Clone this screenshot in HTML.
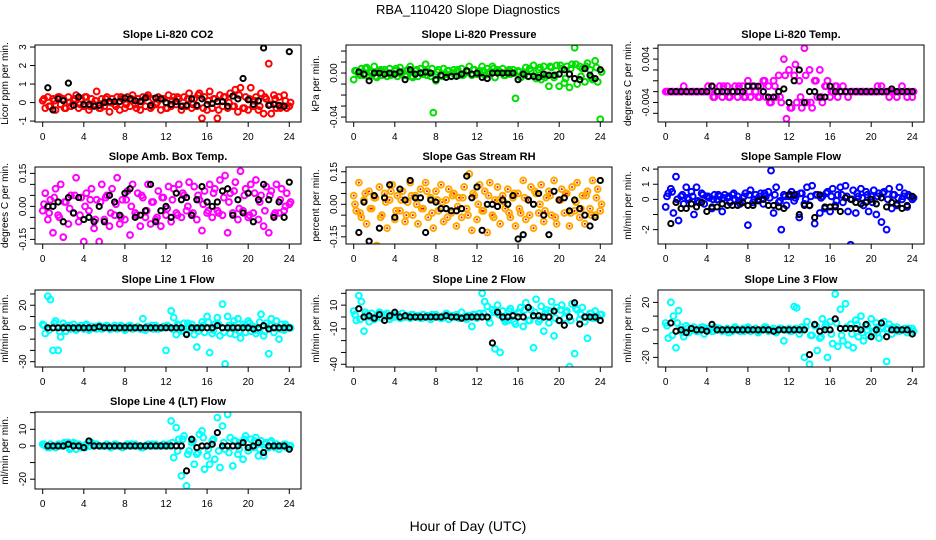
<!DOCTYPE html>
<html><head><meta charset="utf-8"><style>
body{margin:0;background:#fff}
svg{display:block;font-family:"Liberation Sans",Arial,sans-serif}
</style></head><body>
<svg id="chart" width="936" height="540" viewBox="0 0 936 540" xmlns="http://www.w3.org/2000/svg">
<text x="468" y="14" text-anchor="middle" font-size="13">RBA_110420  Slope Diagnostics</text>
<text x="468" y="531" text-anchor="middle" font-size="14">Hour of Day (UTC)</text>
</svg>
<script>
// colored series A sampled every 0.25 h, colored series B every 0.5 h from 0.125, black every 0.5 h from 0.5
const co2Color=[0.1,-0.3,0.3,-0.2,0.2,-0.4,0.3,-0.1,0.2,-0.3,0.3,-0.2,0.1,0.4,-0.3,0.2,-0.2,0.3,-0.4,0.2,-0.1,0.6,-0.3,0.2,
-0.2,0.3,-0.5,0.2,-0.1,0.3,-0.4,0.2,-0.3,0.3,-0.2,0.4,-0.1,0.2,-0.4,0.3,-0.2,0.4,-0.3,0.2,-0.1,0.3,-0.4,0.2,
-0.3,0.4,-0.2,0.3,-0.1,0.2,-0.4,0.3,-0.2,0.5,-0.3,0.2,-0.2,0.5,-0.85,0.3,-0.4,0.6,-0.3,0.2,-0.85,0.4,-0.2,0.3,
-0.3,0.5,-0.2,0.7,-0.5,0.8,-0.3,0.3,-0.4,0.8,-0.2,0.3,-0.4,0.5,-0.6,0.2,2.1,-0.6,0.4,-0.3,0.3,-0.2,0.4,-0.3,-0.2];
const co2ColorB=[0.2,-0.2,0.1,0.3,-0.3,0.0,0.2,-0.1,0.3,-0.2,0.1,-0.3,0.2,0.0,-0.2,0.3,-0.1,0.2,-0.3,0.1,0.3,-0.2,0.0,0.2,-0.3,0.1,0.3,-0.2,0.2,-0.1,0.4,-0.3,0.1,0.2,-0.4,0.3,0.0,-0.2,0.4,-0.3,0.2,0.1,-0.2,0.3,-0.1,0.2,-0.3,0.1,0.0];
const co2Black=[0.8,-0.4,0.2,0.1,1.05,-0.15,0.3,-0.1,-0.1,-0.2,-0.15,0,0.05,0.05,0.05,0.25,0.2,0.1,0.05,0.25,-0.15,0.25,0.2,0,-0.1,0.05,-0.2,-0.15,0.2,-0.15,0.2,-0.1,-0.05,0.05,0.05,-0.2,0.35,0.2,1.3,0.15,-0.1,0.1,2.95,-0.15,-0.1,-0.15,-0.2,2.75];
const presColor=[-0.006,0.002,-0.001,0.004,-0.002,0.005,-0.003,0.001,0.006,-0.004,0.002,-0.002,0.003,-0.003,0.004,-0.001,0.002,-0.003,0.005,0.001,-0.002,0.003,0.006,-0.004,
0.002,-0.003,0.004,-0.001,0.008,0.001,-0.003,-0.036,-0.007,0.003,-0.002,0.004,-0.001,0.002,-0.003,0.003,0.001,-0.002,0.004,-0.001,0.002,0.006,-0.002,0.003,
-0.001,0.002,0.006,-0.002,0.004,0.001,0.006,-0.004,0.003,0.001,0.004,-0.002,0.002,-0.001,0.003,-0.023,0.002,-0.004,0.001,0.005,-0.003,0.002,0.007,-0.005,
0.003,-0.006,0.006,-0.002,-0.012,0.005,-0.004,0.007,-0.012,0.004,-0.009,0.006,-0.013,0.008,0.023,-0.010,0.006,0.004,-0.008,0.009,0.003,-0.006,0.011,-0.008,-0.042];
const presColorB=[0.002,-0.002,0.004,0.0,-0.003,0.003,0.001,-0.002,0.004,-0.001,0.002,-0.003,0.003,0.0,-0.002,0.004,0.001,-0.003,0.002,0.0,0.003,-0.002,0.001,0.003,0.0,0.002,-0.001,0.004,0.001,-0.002,0.003,0.0,0.001,-0.002,0.004,-0.003,0.005,-0.004,0.006,-0.002,0.007,-0.005,0.004,0.008,-0.003,0.006,-0.004,0.005,0.001];
const presBlack=[0.001,-0.001,-0.007,0,0,-0.001,0,-0.001,0.001,-0.006,0.003,-0.001,0,0.001,0,-0.006,-0.002,-0.004,-0.003,-0.003,-0.001,0.002,-0.001,0,-0.004,-0.005,0,0,0,0,0,-0.006,-0.001,-0.003,-0.003,-0.004,-0.001,-0.002,-0.002,-0.001,0.003,-0.001,-0.005,-0.006,0.004,-0.002,-0.005,0.003];
const tempColor=[-0.002,-0.002,-0.002,-0.002,-0.002,-0.002,-0.002,-0.001,-0.002,-0.002,-0.002,-0.002,-0.002,-0.002,-0.002,-0.002,-0.002,-0.002,-0.001,-0.003,-0.002,-0.001,-0.003,-0.002,
-0.001,-0.003,-0.002,-0.001,-0.003,-0.002,-0.001,-0.003,0,-0.003,-0.001,-0.002,-0.003,-0.001,0,-0.003,-0.001,-0.004,0,-0.003,0.001,-0.004,0.004,-0.007,
0.002,-0.005,0.001,-0.004,0,-0.005,0.006,-0.004,0.002,-0.005,0,-0.003,0.002,-0.004,-0.001,0,-0.003,-0.002,-0.001,-0.003,-0.002,-0.001,-0.002,-0.003,
-0.002,-0.002,-0.002,-0.002,-0.002,-0.002,-0.002,-0.002,-0.002,-0.002,-0.002,-0.002,-0.001,-0.002,-0.002,-0.003,-0.002,-0.002,-0.003,-0.002,-0.001,-0.002,-0.003,-0.002,-0.003];
const tempColorB=[-0.002,-0.002,-0.002,-0.002,-0.002,-0.002,-0.002,-0.002,-0.001,-0.003,-0.002,-0.001,-0.003,-0.002,-0.001,-0.003,-0.002,-0.001,-0.003,0.0,-0.004,-0.001,-0.003,0.001,-0.005,0.003,-0.003,0.001,-0.004,0.0,-0.003,-0.001,-0.002,-0.001,-0.002,-0.002,-0.002,-0.002,-0.002,-0.002,-0.002,-0.001,-0.002,-0.002,-0.002,-0.002,-0.002,-0.002,-0.002];
const tempBlack=[-0.002,-0.002,-0.002,-0.002,-0.002,-0.002,-0.002,-0.002,-0.001,-0.002,-0.002,-0.002,-0.002,-0.002,-0.002,-0.001,-0.001,-0.001,-0.002,-0.003,-0.003,-0.002,-0.0015,-0.004,0,0.002,-0.004,-0.002,-0.002,-0.003,-0.003,-0.001,-0.002,-0.002,-0.002,-0.002,-0.002,-0.002,-0.002,-0.002,-0.002,-0.002,-0.002,-0.0015,-0.002,-0.002,-0.002,-0.002];
const ambColor=[-0.02,0.06,-0.06,0.03,-0.12,0.08,-0.04,0.1,-0.14,0.02,-0.08,0.05,-0.03,0.13,-0.07,0.04,-0.16,0.06,-0.02,0.08,-0.1,0.03,-0.16,0.1,
-0.06,0.05,-0.09,0.08,-0.04,0.13,-0.08,0.03,-0.06,0.07,-0.13,0.1,-0.03,0.06,-0.09,0.04,-0.05,0.1,-0.08,0.02,-0.06,0.07,-0.09,0.04,
-0.04,0.09,-0.07,0.08,-0.03,0.1,-0.05,0.05,-0.02,0.11,-0.04,0.09,-0.06,0.03,-0.11,0.07,-0.03,0.1,-0.05,0.08,-0.02,0.12,-0.04,0.14,
-0.12,0.06,-0.03,0.11,-0.06,0.16,-0.02,0.08,-0.05,0.1,-0.03,0.12,-0.06,0.05,-0.09,0.09,-0.12,0.07,-0.04,0.1,-0.03,0.08,-0.02,0.06,0.01];
const ambColorB=[0.01,-0.03,0.04,-0.05,0.02,-0.01,0.05,-0.04,0.0,0.03,-0.06,0.02,0.04,-0.03,0.01,-0.05,0.03,0.0,-0.04,0.05,-0.02,0.02,-0.05,0.04,-0.01,0.03,-0.04,0.06,0.0,-0.03,0.05,0.01,-0.02,0.06,-0.03,0.04,0.02,0.07,-0.01,0.05,-0.04,0.06,0.02,-0.02,0.05,-0.03,0.03,0.0,0.02];
const ambBlack=[0,0,0.02,-0.07,0.04,-0.03,0.04,-0.06,-0.05,-0.07,0,-0.07,0.05,0.02,-0.04,0.06,0.08,-0.05,-0.04,-0.02,0.1,-0.07,-0.02,0,-0.05,0.06,0.03,0.04,-0.04,0.03,0.09,0.02,0,0.02,0.07,0.08,-0.04,0.03,-0.03,0.06,-0.07,0.03,0.1,0.03,-0.05,0.02,-0.05,0.11];
const rhColor=[0.04,-0.03,0.1,-0.06,0.02,-0.09,0.06,-0.02,0.03,-0.19,0.08,-0.05,0.05,-0.11,0.02,0.09,-0.07,0.04,-0.03,0.06,-0.08,0.01,0.1,-0.05,
0.04,-0.09,0.07,-0.02,0.1,-0.06,0.03,-0.11,0.06,-0.03,0.09,-0.08,0.02,0.07,-0.04,0.05,-0.1,0.03,-0.06,0.08,-0.02,0.14,-0.12,0.04,
-0.07,0.09,-0.03,0.06,-0.13,0.1,-0.05,0.02,0.08,-0.09,0.04,-0.02,0.07,-0.06,0.03,-0.1,0.05,-0.04,0.11,-0.07,0.02,0.08,-0.11,0.05,
-0.04,0.09,-0.08,0.03,0.06,-0.05,0.11,-0.09,0.02,0.07,-0.04,0.05,-0.1,0.08,-0.03,0.1,-0.06,0.04,-0.09,0.06,-0.02,0.11,-0.05,0.07,-0.03];
const rhColorB=[0.0,-0.04,0.05,-0.02,0.03,-0.06,0.01,0.06,-0.03,0.02,-0.05,0.04,0.0,-0.02,0.06,-0.04,0.02,0.01,-0.06,0.04,-0.01,0.03,-0.05,0.05,0.0,-0.03,0.04,-0.06,0.02,0.01,-0.04,0.05,-0.02,0.03,-0.05,0.06,0.0,-0.03,0.04,-0.06,0.02,0.05,-0.04,0.01,-0.02,0.04,-0.05,0.03,0.0];
const rhBlack=[-0.13,0.01,-0.17,0.04,-0.11,0.03,0.09,-0.06,0.07,0.02,0.11,0.03,0.03,-0.13,0.02,0.01,-0.02,-0.02,-0.03,-0.03,-0.02,0.13,0.03,0.08,-0.12,0,0,-0.01,0.02,0,0.04,-0.16,-0.14,0.02,0,0.05,-0.05,-0.14,0.06,0.02,0.03,-0.03,0.02,-0.02,-0.05,-0.1,-0.06,0.11];
const sampColor=[-0.5,0.4,0.7,-0.9,1.5,-1.4,0.2,-0.3,0.8,0,0.5,-1,0.8,-0.2,0.4,-0.3,0.2,0.1,-0.6,0.3,0,0.2,-0.8,0.3,
0.1,-0.2,0.3,0,0.2,-0.3,0.1,0.4,-1.7,0.6,-0.2,0.3,0,0.4,-0.3,0.2,0.5,1.9,-0.9,0.8,-0.2,-2,0.3,-0.4,
0.2,0.5,-0.1,0.3,-1.2,0.4,-0.3,0.8,-0.4,0.9,-1.6,0.3,-0.9,0.2,-0.6,0.5,-0.8,0.7,-0.4,0.3,0.8,-0.2,0.9,-0.8,
-3,0.6,-0.9,0.2,0.7,-0.4,0.5,-0.8,0.2,0.6,-1,0.4,-1.5,0.5,-2,0.7,-0.6,0.3,-0.4,0.8,0,0.4,-0.5,0.2,0];
const sampColorB=[0.2,0.5,0.0,0.3,0.1,0.2,-0.1,0.3,0.2,0.0,0.3,0.1,0.2,0.4,-0.1,0.2,0.3,0.0,0.2,0.4,0.1,0.3,-0.1,0.2,0.3,0.1,0.4,0.0,0.2,0.3,0.1,0.4,0.2,-0.1,0.3,0.2,0.0,0.4,0.1,0.3,-0.2,0.2,0.4,0.0,0.3,0.1,0.2,0.3,0.1];
const sampBlack=[-1.6,-0.2,-0.6,-0.6,-0.3,-0.5,-0.2,-0.8,-0.5,-0.5,-0.3,-0.4,-0.4,-0.4,-0.2,-0.4,-0.4,-0.1,0,-0.4,-0.4,-0.5,-0.6,0.3,0.3,-1,-0.4,-0.4,-1.2,0.3,-0.5,-0.5,-0.5,-0.8,0.1,0,-0.2,-0.3,-0.2,0,-0.3,0.1,-0.5,-0.2,-0.3,-0.6,-0.4,0.2];
const l1Color=[3,-5,28,25,-20,6,-20,-8,4,-3,2,-1,3,-2,1,2,-1,3,-2,1,0,-1,2,-1,
1,2,-1,0,2,-1,1,0,-2,1,2,-1,0,1,-1,8,-2,1,0,-1,2,-1,0,1,
-20,1,15,9,-6,2,-3,4,-5,1,3,-6,-17,0,5,-4,10,-22,-5,3,9,-7,21,-32,
10,-5,2,-6,8,-9,3,-4,6,-3,1,-5,-2,12,-7,4,-23,8,-4,6,-10,3,-2,1,0];
const l1ColorB=[2,-2,4,-3,1,2,-1,0,2,-1,1,0,1,-1,0,2,-1,1,0,-1,1,2,-1,0,2,-1,3,-2,4,0,-3,2,5,-2,3,-4,2,6,-3,1,4,-2,5,-3,2,0,-1,3,0];
const l1Black=[0,0,0,0,0,0,0,0,0,0,1,0,0,0,0,0,0,0,0,0,0,0,0,0,0,0,0,-6,0,0,0,0,0,2,0,0,0,0,0,0,-1,0,2,-1,0,0,0,0];
const l2Color=[5,-3,18,13,-12,2,-4,3,-2,1,4,-1,2,3,-2,1,0,2,-1,3,0,1,-1,2,
0,1,-1,2,0,1,-2,1,2,0,-1,1,3,-2,1,0,2,-1,4,0,-2,1,-8,2,
-1,3,20,13,9,-5,6,-27,10,-30,5,-4,-3,7,2,-6,4,8,-8,12,-3,6,-26,15,
-4,9,-12,6,-5,13,-16,8,-3,10,-1,5,-42,11,-31,6,-2,8,-4,-18,3,-1,5,0,2];
const l2ColorB=[2,-2,4,0,-1,3,1,0,2,-1,1,2,0,-1,1,2,0,-1,2,1,0,-1,1,2,0,3,-1,4,2,-2,5,-4,3,6,-3,4,-2,3,5,-1,6,4,-3,7,2,0,3,-1,2];
const l2Black=[7,0,1,-1,2,-3,1,4,0,1,0,0,0,0,0,0,0,1,0,0,-1,0,0,0,0,0,-22,4,0,0,1,0,0,8,1,1,0,0,5,-3,-7,0,12,-6,0,0,0,-3];
const l3Color=[5,-6,20,10,-13,14,2,-5,3,-2,1,2,-1,0,2,-3,1,0,-1,2,0,1,-1,0,
1,0,-1,2,0,-1,1,0,2,-1,0,1,-2,0,1,2,-1,0,1,-2,0,1,-8,0,
1,-1,17,16,-3,2,-20,6,-25,-4,3,-15,-6,8,2,-20,6,-10,26,-12,15,-8,19,-11,
4,-13,7,-5,10,-8,3,-4,8,-2,5,-6,2,6,-23,4,-3,1,2,-1,0,1,-2,0,1];
const l3ColorB=[3,-4,5,-2,1,0,-1,2,0,-1,1,0,-2,1,0,-1,1,0,-1,2,0,-1,1,0,-1,1,0,2,-4,3,-5,4,-3,5,-4,2,-3,4,-2,3,-1,2,-3,1,2,-1,0,1,-1];
const l3Black=[5,-1,0,-2,1,0,0,-1,4,0,0,0,0,0,0,0,0,0,0,0,-1,0,0,0,0,0,0,-18,4,-1,0,0,8,1,1,1,1,0,4,-5,0,5,-5,0,0,0,0,-3];
const l4Color=[1,0,-1,1,0,-1,1,0,0,1,2,-1,2,-2,1,-1,0,1,0,2,0,1,0,0,
0,1,0,0,1,0,0,-1,0,1,0,0,1,0,0,-1,0,1,0,0,1,0,0,1,
0,1,15,-7,11,4,-18,6,-24,-3,2,-11,-5,7,9,-14,-6,-11,3,-8,17,-13,12,-2,
19,5,-12,3,-5,2,-8,6,-3,4,-1,5,-6,3,-6,2,-1,3,0,1,-2,0,1,-1,0];
const l4ColorB=[1,-1,0,1,2,-2,1,0,-1,0,1,0,0,-1,1,0,0,1,0,-1,0,1,0,0,0,2,-3,4,-5,3,-4,5,-2,4,-3,2,-4,3,-2,4,-1,3,-2,1,2,-1,0,1,0];
const l4Black=[0,0,0,0,1,0,0,-1,3,0,0,0,0,0,0,0,0,0,0,0,0,0,0,0,0,0,0,-15,4,-1,0,0,1,8,0,0,0,0,2,-1,0,2,-4,0,0,0,0,-2];
const xTicks=[0,4,8,12,16,20,24];
const co2Ticks=[-1,0,1,2,3], co2Labels=['-1','0','1','2','3'];
const presTicks=[-0.04,-0.03,-0.02,-0.01,0,0.01,0.02], presLabels=['-0.04','','','','0.00','',''];
const tempTicks=[-0.006,-0.004,-0.002,0,0.002,0.004,0.006], tempLabels=['','-0.004','','','','0.004',''];
const ambTicks=[-0.15,-0.1,-0.05,0,0.05,0.1,0.15], ambLabels=['-0.15','','','0.00','','','0.15'];
const rhTicks=[-0.15,-0.1,-0.05,0,0.05,0.1,0.15], rhLabels=['-0.15','','','0.00','','','0.15'];
const sampTicks=[-2,-1,0,1,2], sampLabels=['-2','','0','1','2'];
const l1Ticks=[-30,-20,-10,0,10,20,30], l1Labels=['-30','','','0','','20',''];
const l2Ticks=[-40,-30,-20,-10,0,10,20], l2Labels=['-40','','','-10','','10',''];
const l3Ticks=[-20,-10,0,10,20], l3Labels=['-20','','0','','20'];
const l4Ticks=[-20,-10,0,10,20], l4Labels=['-20','','0','10',''];

const svg=document.getElementById('chart');
const NS='http://www.w3.org/2000/svg';
function mk(tag,attrs,parent){const e=document.createElementNS(NS,tag);for(const k in attrs)e.setAttribute(k,attrs[k]);(parent||svg).appendChild(e);return e;}
const colX=[35,346,658], rowY=[45,167,290,412], W=266, H=77;
const XMIN=-0.75, XMAX=25.14;
function panel(id,col,row,title,ylab,ymin,ymax,ticks,labels,cArr,cArrB,bArr,color,dotColor){
  const bx=colX[col], by=rowY[row];
  const g=mk('g',{});
  
  
  const sx=v=>bx+(v-XMIN)/(XMAX-XMIN)*W;
  const sy=v=>by+H-(v-ymin)/(ymax-ymin)*H;
  const t=mk('text',{x:bx+W/2,y:by-7,'text-anchor':'middle','font-size':'11','font-weight':'bold'},g);t.textContent=title;
  
  
  const cy=by+H/2, lx=bx-27;
  const yl=mk('text',{x:lx,y:cy,'text-anchor':'middle','font-size':'10',transform:`rotate(-90 ${lx} ${cy})`},g);yl.textContent=ylab;
  
  
  const clip=mk('clipPath',{id:'c'+id},g);mk('rect',{x:bx,y:by,width:W,height:H},clip);
  const pts=mk('g',{'clip-path':`url(#c${id})`},g);
  function dot(xv,yv){
    const c=mk('circle',{cx:sx(xv),cy:sy(yv),r:2.9,fill:'none',stroke:color,'stroke-width':2},pts);
    
    
    if(dotColor) mk('circle',{cx:sx(xv),cy:sy(yv),r:1,fill:dotColor},pts);
  }
  cArrB.forEach((v,i)=>dot(0.125+i*0.5,v));
  const n=cArr.length;
  cArr.forEach((v,i)=>dot(i*24/(n-1),v));
  bArr.forEach((v,i)=>{
    const c=mk('circle',{cx:sx(0.5+i*0.5),cy:sy(v),r:2.6,fill:'none',stroke:'#000','stroke-width':2},pts);
    
    
  });
  const box=mk('rect',{x:bx,y:by,width:W,height:H,fill:'none',stroke:'#000','stroke-width':1},g);
  
  
  mk('line',{x1:sx(0),x2:sx(24),y1:by+H,y2:by+H,stroke:'#000'},g);
  xTicks.forEach(v=>{
    mk('line',{x1:sx(v),x2:sx(v),y1:by+H,y2:by+H+5,stroke:'#000'},g);
    const tl=mk('text',{x:sx(v),y:by+H+18,'text-anchor':'middle','font-size':'10'},g);tl.textContent=v;
    
    
  });
  ticks.forEach((v,i)=>{
    const y=sy(v);
    mk('line',{x1:bx-5,x2:bx,y1:y,y2:y,stroke:'#000'},g);
    if(labels[i]){
      const tx=bx-9;
      const tl=mk('text',{x:tx,y:y,'text-anchor':'middle','font-size':'10',transform:`rotate(-90 ${tx} ${y})`},g);tl.textContent=labels[i];
      
      
    }
  });
}
panel('co2',0,0,'Slope Li-820 CO2','Licor ppm per min.',-1.05,3.11,co2Ticks,co2Labels,co2Color,co2ColorB,co2Black,'#ff0000');
panel('pressure',1,0,'Slope Li-820 Pressure','kPa per min.',-0.0445,0.0255,presTicks,presLabels,presColor,presColorB,presBlack,'#00e000');
panel('temp',2,0,'Slope Li-820 Temp.','degrees C per min.',-0.0076,0.0066,tempTicks,tempLabels,tempColor,tempColorB,tempBlack,'#ff00ff');
panel('amb',0,1,'Slope Amb. Box Temp.','degrees C per min.',-0.171,0.179,ambTicks,ambLabels,ambColor,ambColorB,ambBlack,'#ff00ff');
panel('rh',1,1,'Slope Gas Stream RH','percent per min.',-0.183,0.172,rhTicks,rhLabels,rhColor,rhColorB,rhBlack,'#ffaa00','#ff0000');
panel('sample',2,1,'Slope Sample Flow','ml/min per min.',-2.95,2.14,sampTicks,sampLabels,sampColor,sampColorB,sampBlack,'#0000ff');
panel('line1',0,2,'Slope Line 1 Flow','ml/min per min.',-34.7,33.5,l1Ticks,l1Labels,l1Color,l1ColorB,l1Black,'#00ffff');
panel('line2',1,2,'Slope Line 2 Flow','ml/min per min.',-42.3,22.8,l2Ticks,l2Labels,l2Color,l2ColorB,l2Black,'#00ffff');
panel('line3',2,2,'Slope Line 3 Flow','ml/min per min.',-27,29,l3Ticks,l3Labels,l3Color,l3ColorB,l3Black,'#00ffff');
panel('line4',0,3,'Slope Line 4 (LT) Flow','ml/min per min.',-25.9,20.4,l4Ticks,l4Labels,l4Color,l4ColorB,l4Black,'#00ffff');
</script>
</body></html>
